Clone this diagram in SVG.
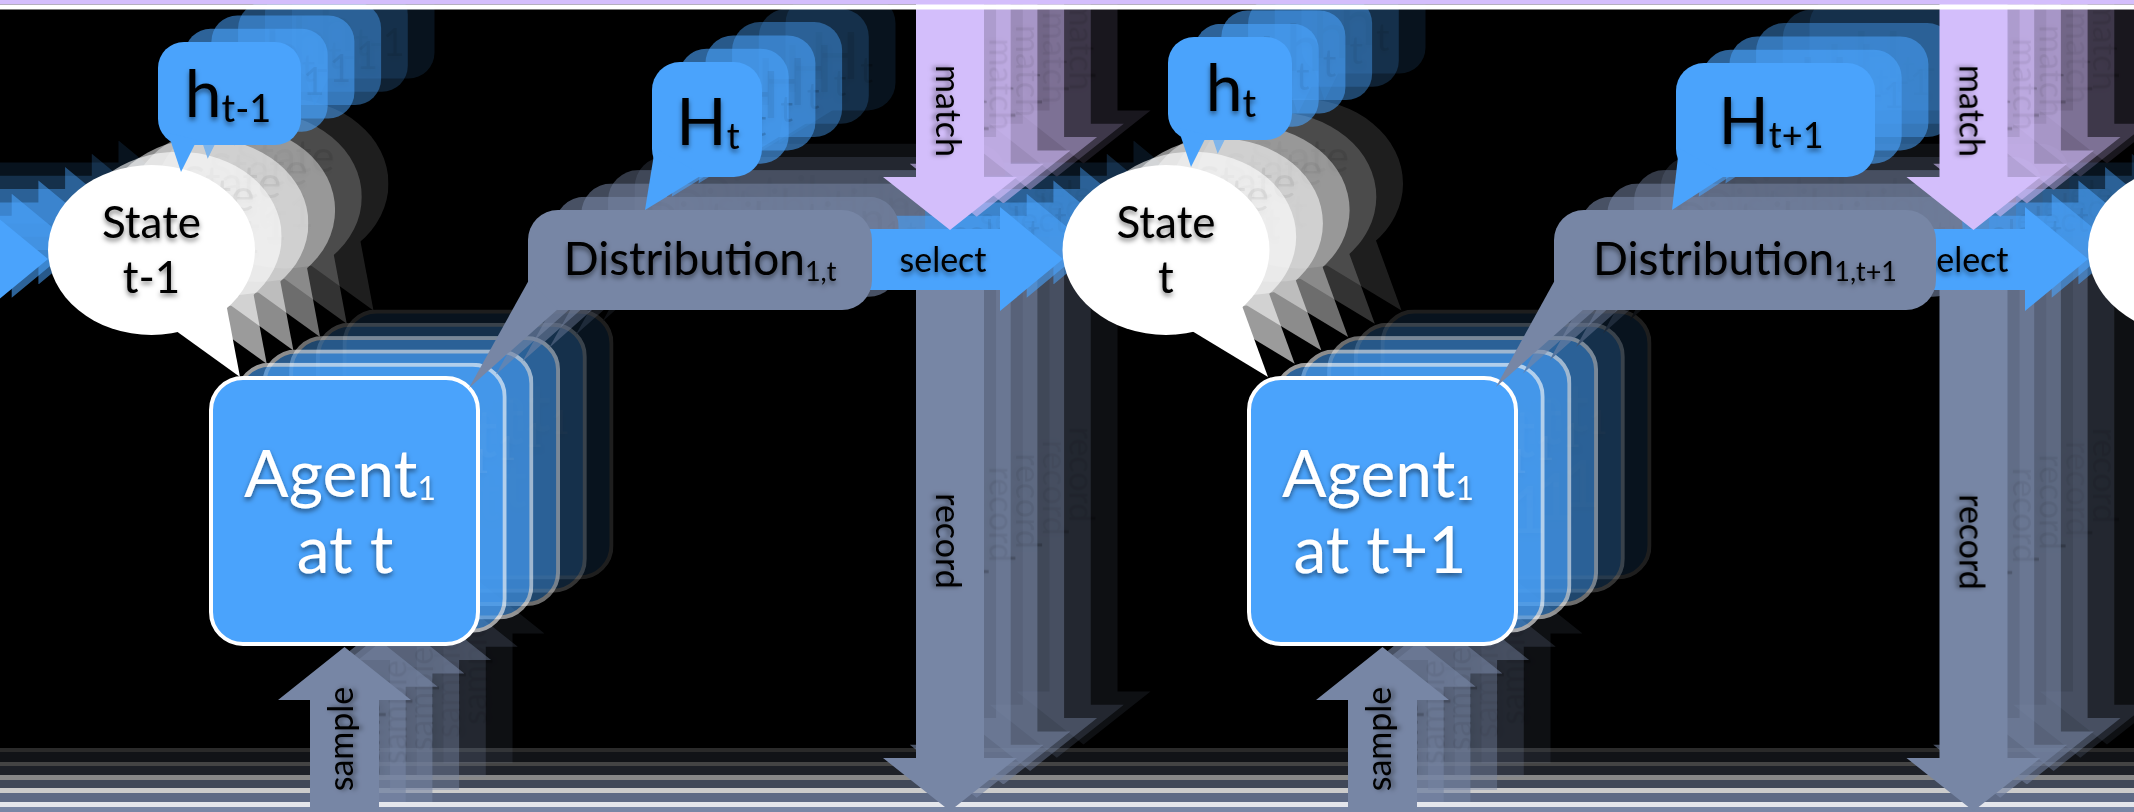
<svg xmlns="http://www.w3.org/2000/svg" xmlns:xlink="http://www.w3.org/1999/xlink" width="2134" height="812" viewBox="0 0 2134 812">
<defs>
<style>
text { font-family: Lato, "Open Sans", "DejaVu Sans", sans-serif; }
.tx { fill-opacity: var(--to, 1); filter: url(#ts); }
.tb { fill: #000; }
.tw { fill: #fff; }
.blue { fill: #4aa3fc; }
.lav { fill: #d3befb; }
.gb { fill: #7786a5; }
.wh { fill: #fff; }
.lbl { font-size: 34px; }
.agent { fill: #4aa3fc; stroke: #fff; stroke-width: 4; }
</style>
<filter id="ts" x="-20%" y="-40%" width="140%" height="190%">
<feDropShadow dx="0" dy="3" stdDeviation="2.5" flood-color="#000" flood-opacity="0.5"/>
</filter>
</defs>
<rect width="2134" height="812" fill="#000"/>
<g id="timeline-echo">
<rect x="0" y="748" width="2134" height="4" fill="#2a2a2a"/>
<rect x="0" y="752" width="2134" height="10" fill="#111317"/>
<rect x="0" y="762" width="2134" height="4" fill="#444"/>
<rect x="0" y="766" width="2134" height="9" fill="#1e2128"/>
<rect x="0" y="775" width="2134" height="5" fill="#888"/>
<rect x="0" y="780" width="2134" height="8" fill="#404858"/>
<rect x="0" y="788" width="2134" height="5" fill="#ccc"/>
<rect x="0" y="793" width="2134" height="9" fill="#5e6a85"/>
</g>
<g id="echoes">
<use href="#scene" xlink:href="#scene" transform="translate(133.5,-66.5)" opacity="0.12" style="--to:0.25"/>
<use href="#scene" xlink:href="#scene" transform="translate(106.8,-53.2)" opacity="0.2" style="--to:0.25"/>
<use href="#scene" xlink:href="#scene" transform="translate(80.1,-39.9)" opacity="0.43" style="--to:0.25"/>
<use href="#scene" xlink:href="#scene" transform="translate(53.4,-26.6)" opacity="0.55" style="--to:0.25"/>
<use href="#scene" xlink:href="#scene" transform="translate(26.7,-13.3)" opacity="0.61" style="--to:0.25"/>
</g>
<g id="timeline">
<rect x="0" y="802" width="2134" height="5" fill="#e4e6ec"/>
<rect x="0" y="807" width="2134" height="10" fill="#7886a5"/>
</g>
<g id="scene">
<g id="connectors">
<g id="record-t"><path class="gb" d="M916 250H984V758H1017L950 811L883 758H916Z"/><text class="tx tb lbl" text-anchor="middle" transform="translate(936,541) rotate(90)">record</text></g>
<g id="record-t1"><path class="gb" d="M1939.5 250H2007.5V758H2040.5L1973.5 811L1906.5 758H1939.5Z"/><text class="tx tb lbl" text-anchor="middle" transform="translate(1959.5,542) rotate(90)">record</text></g>
<g id="select-prev"><path class="blue" d="M-300 229H-15V207L48 259L-15 311V290H-300Z"/></g>
<g id="select-t"><path class="blue" d="M860 229H1000V207L1063 259L1000 311V290H860Z"/><text class="tx tb lbl" x="943" y="272" text-anchor="middle">select</text></g>
<g id="select-t1"><path class="blue" d="M1900 229H2025V207L2088 259L2025 311V290H1900Z"/><text class="tx tb lbl" x="1965" y="272" text-anchor="middle">select</text></g>
<g id="match-t"><path class="lav" d="M916 -30H984V177H1017L950 230L883 177H916Z"/><text class="tx tb lbl" text-anchor="middle" transform="translate(936,111) rotate(90)">match</text></g>
<g id="match-t1"><path class="lav" d="M1939.5 -30H2007.5V177H2040.5L1973.5 230L1906.5 177H1939.5Z"/><text class="tx tb lbl" text-anchor="middle" transform="translate(1959.5,111) rotate(90)">match</text></g>
<g id="sample-t"><path class="gb" d="M310 830V700H278L344.5 647L411 700H379V830Z"/><text class="tx tb lbl" text-anchor="middle" transform="translate(353,739) rotate(-90)">sample</text></g>
<g id="sample-t1"><path class="gb" d="M1348 830V700H1316L1382.5 647L1449 700H1417V830Z"/><text class="tx tb lbl" text-anchor="middle" transform="translate(1391,739) rotate(-90)">sample</text></g>
</g>
<g id="agent-t">
<rect class="agent" x="211" y="378" width="267" height="266" rx="32"/>
<text class="tx tw" x="340" y="497" text-anchor="middle" font-size="66">Agent<tspan font-size="32" dy="3">1</tspan></text>
<text class="tx tw" x="345" y="573" text-anchor="middle" font-size="66">at t</text>
</g>
<g id="agent-t1">
<rect class="agent" x="1249" y="378" width="267" height="266" rx="32"/>
<text class="tx tw" x="1378" y="497" text-anchor="middle" font-size="66">Agent<tspan font-size="32" dy="3">1</tspan></text>
<text class="tx tw" x="1380" y="573" text-anchor="middle" font-size="66">at t+1</text>
</g>
<g id="dist-t">
<rect class="gb" x="528" y="210" width="344" height="100" rx="30"/>
<polygon class="gb" points="529,280 558,309 469,388"/>
<text class="tx tb" x="700" y="275" text-anchor="middle" font-size="46">Distribution<tspan font-size="27" dy="6">1,t</tspan></text>
</g>
<g id="dist-t1">
<rect class="gb" x="1554" y="210" width="382" height="100" rx="30"/>
<polygon class="gb" points="1555,280 1584,309 1496,387"/>
<text class="tx tb" x="1745" y="275" text-anchor="middle" font-size="46">Distribution<tspan font-size="27" dy="6">1,t+1</tspan></text>
</g>
<g id="state-tm1">
<ellipse class="wh" cx="151.5" cy="250" rx="103.5" ry="85"/>
<polygon class="wh" points="172,328 226,303 240,377"/>
<text class="tx tb" x="151.5" y="238" text-anchor="middle" font-size="44">State</text>
<text class="tx tb" x="151.5" y="293" text-anchor="middle" font-size="44">t-1</text>
</g>
<g id="state-t">
<ellipse class="wh" cx="1166" cy="250" rx="103.5" ry="85"/>
<polygon class="wh" points="1187,328 1241,303 1268,377"/>
<text class="tx tb" x="1166" y="238" text-anchor="middle" font-size="44">State</text>
<text class="tx tb" x="1166" y="293" text-anchor="middle" font-size="44">t</text>
</g>
<g id="state-t1">
<ellipse class="wh" cx="2191.5" cy="250" rx="103.5" ry="85"/>
<polygon class="wh" points="2212,328 2266,303 2292,377"/>
</g>
<g id="h-tm1">
<rect class="blue" x="158" y="42" width="143" height="103" rx="26"/>
<polygon class="blue" points="168,133 197,140 181,172"/>
<text class="tx tb" x="228" y="117" text-anchor="middle" font-size="66">h<tspan font-size="38" dy="5">t-1</tspan></text>
</g>
<g id="h-t">
<rect class="blue" x="1168" y="37" width="124" height="103" rx="26"/>
<polygon class="blue" points="1178,128 1207,135 1191,167"/>
<text class="tx tb" x="1231" y="111" text-anchor="middle" font-size="66">h<tspan font-size="38" dy="6">t</tspan></text>
</g>
<g id="H-t">
<rect class="blue" x="652" y="62" width="110" height="115" rx="28"/>
<polygon class="blue" points="655,148 702,175 645,210"/>
<text class="tx tb" x="708" y="145" text-anchor="middle" font-size="66">H<tspan font-size="36" dy="4">t</tspan></text>
</g>
<g id="H-t1">
<rect class="blue" x="1676" y="63" width="199" height="114" rx="28"/>
<polygon class="blue" points="1679,148 1726,175 1672,210"/>
<text class="tx tb" x="1771" y="144" text-anchor="middle" font-size="66">H<tspan font-size="36" dy="4">t+1</tspan></text>
</g>
</g>
<g id="topband">
<rect x="0" y="0" width="2134" height="4.5" fill="#d4befc"/>
<rect x="0" y="4.5" width="2134" height="5" fill="#fff"/>
</g>
</svg>
